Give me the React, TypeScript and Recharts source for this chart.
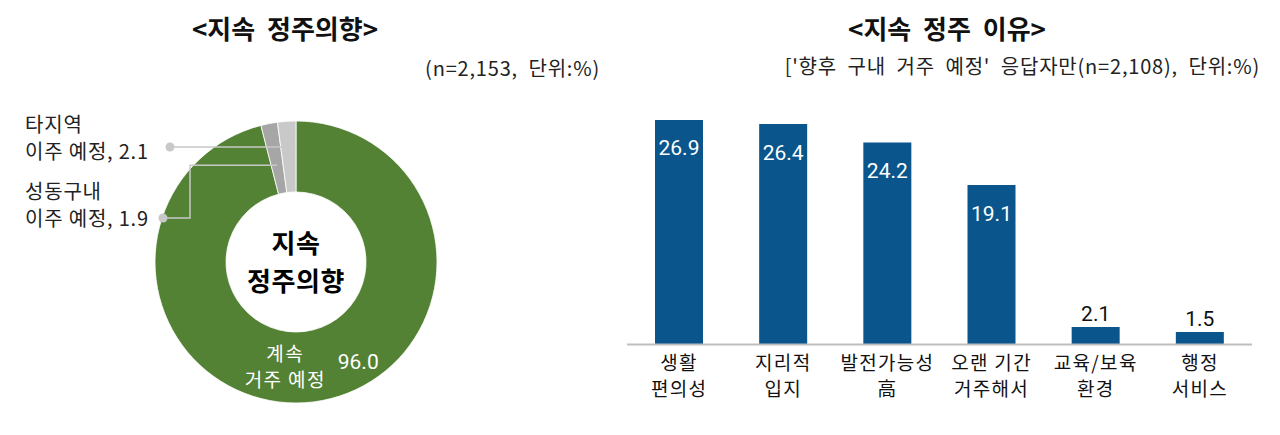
import React from 'react';
import { PieChart, Pie, Cell, BarChart, Bar, XAxis, YAxis, LabelList } from 'recharts';

const pieNames = ['계속 거주 예정', '성동구내 이주 예정', '타지역 이주 예정'];
const pieValues = [96.0, 1.9, 2.1];
const pieColors = ['#548235', '#a6a6a6', '#c9c9c9'];

const barCategories = ['생활\n편의성', '지리적\n입지', '발전가능성\n高', '오랜 기간\n거주해서', '교육/보육\n환경', '행정\n서비스'];
const barValues = [26.9, 26.4, 24.2, 19.1, 2.1, 1.5];

const pieData = pieNames.map((name, i) => ({ name, value: pieValues[i] }));
const barData = barCategories.map((name, i) => ({ name, value: barValues[i] }));

const KR = '"Noto Sans CJK KR", "Noto Sans", sans-serif';
const NUM = 'Roboto, "Noto Sans", sans-serif';
const RAD = Math.PI / 180;

const polar = (cx: number, cy: number, r: number, a: number) => ({
  x: cx + r * Math.cos(-a * RAD),
  y: cy + r * Math.sin(-a * RAD),
});

const renderPieLabel = (props: any) => {
  const { cx, cy, midAngle, innerRadius, outerRadius, index, value } = props;
  if (index === 0) {
    const m = polar(cx, cy, (innerRadius + outerRadius) / 2, midAngle);
    return (
      <g>
        <text textAnchor="middle" dominantBaseline="central" fontFamily={KR} fontWeight={700} fontSize={26} letterSpacing={0.6} fill="#000">
          <tspan x={cx} y={cy - 21}>지속</tspan>
          <tspan x={cx} y={cy + 17}>정주의향</tspan>
        </text>
        <text textAnchor="middle" dominantBaseline="central" fontFamily={KR} fontSize={19} fill="#fff" letterSpacing={1.4} style={{ whiteSpace: 'pre' }}>
          <tspan x={m.x - 24} y={m.y - 15}>계속</tspan>
          <tspan x={m.x - 24} y={m.y + 11}>거주 예정</tspan>
        </text>
        <text x={m.x + 49} y={m.y - 5} textAnchor="middle" dominantBaseline="central" fontFamily={NUM} fontSize={21} fill="#fff">{value.toFixed(1)}</text>
      </g>
    );
  }
  if (index === 2) {
    const a = polar(cx, cy, outerRadius - 12, midAngle);
    const dot = { x: 170, y: 147 };
    return (
      <g>
        <path d={`M${dot.x},${dot.y} H${a.x} V${a.y}`} stroke="#c8c8c8" strokeWidth={1.5} fill="none" />
        <circle cx={dot.x} cy={dot.y} r={4.5} fill="#c8c8c8" />
        <text dominantBaseline="central" fontFamily={KR} fontSize={20} letterSpacing={0.8} fill="#222" style={{ whiteSpace: 'pre' }}>
          <tspan x={25} y={123}>타지역</tspan>
          <tspan x={25} y={150}>{`이주 예정, ${value.toFixed(1)}`}</tspan>
        </text>
      </g>
    );
  }
  const a = polar(cx, cy, (innerRadius + outerRadius) / 2 - 7, midAngle);
  const dot = { x: 163, y: 218 };
  return (
    <g>
      <path d={`M${dot.x},${dot.y} H190 V${a.y} H${a.x}`} stroke="#c8c8c8" strokeWidth={1.5} fill="none" />
      <circle cx={dot.x} cy={dot.y} r={4.5} fill="#c8c8c8" />
      <text dominantBaseline="central" fontFamily={KR} fontSize={20} letterSpacing={0.8} fill="#222" style={{ whiteSpace: 'pre' }}>
        <tspan x={25} y={190}>성동구내</tspan>
        <tspan x={25} y={217}>{`이주 예정, ${value.toFixed(1)}`}</tspan>
      </text>
    </g>
  );
};

const renderBarLabel = (props: any) => {
  const { x, y, width, value } = props;
  const cxp = x + width / 2;
  if (value > 10) {
    return (
      <text x={cxp} y={y + 35.5} textAnchor="middle" fontFamily={NUM} fontSize={21} fill="#fff">{Number(value).toFixed(1)}</text>
    );
  }
  return (
    <text x={cxp} y={y - 5.5} textAnchor="middle" fontFamily={NUM} fontSize={21} fill="#111">{Number(value).toFixed(1)}</text>
  );
};

const renderTick = (props: any) => {
  const { x, y, payload } = props;
  const lines = String(payload.value).split('\n');
  return (
    <text textAnchor="middle" dominantBaseline="central" fontFamily={KR} fontSize={19} letterSpacing={1.3} fill="#111" style={{ whiteSpace: 'pre' }}>
      {lines.map((ln, i) => (
        <tspan key={i} x={x} y={y + 16.5 + i * 26}>{ln}</tspan>
      ))}
    </text>
  );
};

const titleStyle: React.CSSProperties = {
  position: 'absolute',
  fontFamily: KR,
  fontWeight: 700,
  fontSize: 26,
  lineHeight: 1,
  whiteSpace: 'pre',
  color: '#111',
  transform: 'translate(-50%, -50%)',
};

const subStyle: React.CSSProperties = {
  position: 'absolute',
  fontFamily: KR,
  fontSize: 20,
  letterSpacing: 0.8,
  lineHeight: 1,
  whiteSpace: 'pre',
  color: '#222',
  transform: 'translate(-100%, -50%)',
};

export default function App() {
  return (
    <div style={{ position: 'absolute', left: 0, top: 0, width: 1280, height: 435, background: '#fff', overflow: 'hidden' }}>
      <div style={{ ...titleStyle, left: 285, top: 28 }}>{'<지속  정주의향>'}</div>
      <div style={{ ...subStyle, left: 600, top: 68 }}>{'(n=2,153,  단위:%)'}</div>
      <div style={{ ...titleStyle, left: 947, top: 28 }}>{'<지속  정주  이유>'}</div>
      <div style={{ ...subStyle, left: 1260, top: 66 }}>{"['향후  구내  거주  예정'  응답자만(n=2,108),  단위:%)"}</div>

      <div style={{ position: 'absolute', left: 0, top: 0 }}>
        <PieChart width={620} height={435}>
          <Pie
            data={pieData}
            dataKey="value"
            nameKey="name"
            cx={291}
            cy={257}
            innerRadius={70}
            outerRadius={141}
            startAngle={90}
            endAngle={-270}
            stroke="#ffffff"
            strokeWidth={0.8}
            label={renderPieLabel}
            labelLine={false}
            isAnimationActive={false}
          >
            {pieData.map((d, i) => (
              <Cell key={d.name} fill={pieColors[i]} />
            ))}
          </Pie>
        </PieChart>
      </div>

      <div style={{ position: 'absolute', left: 620, top: 0 }}>
        <BarChart width={660} height={435} data={barData} margin={{ top: 94, right: 28, bottom: 0, left: 7 }}>
          <YAxis hide domain={[0, 30]} />
          <XAxis
            dataKey="name"
            axisLine={{ stroke: '#bfbfbf', strokeWidth: 2 }}
            tickLine={false}
            tickSize={0}
            tickMargin={0}
            interval={0}
            height={90.5}
            tick={renderTick}
          />
          <Bar dataKey="value" fill="#0a558c" barSize={48} isAnimationActive={false}>
            <LabelList dataKey="value" content={renderBarLabel} />
          </Bar>
        </BarChart>
      </div>
    </div>
  );
}
